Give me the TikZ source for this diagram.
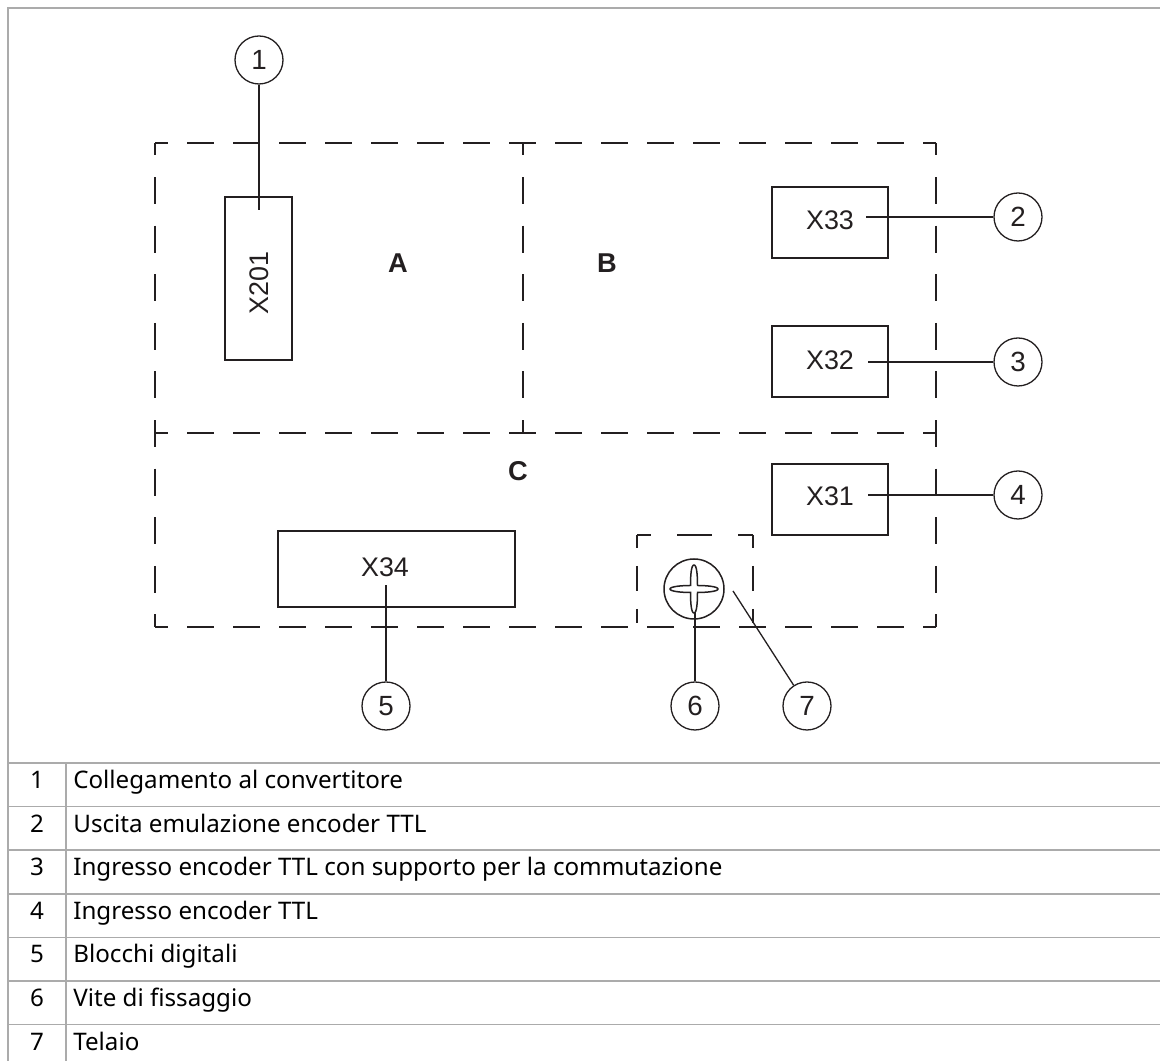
\documentclass[tikz,border=0pt]{standalone}
\usepackage{fontspec}
\setmainfont{Liberation Sans}
\newfontfamily\tablefont{Noto Sans}
\definecolor{inkdark}{rgb}{0.137,0.122,0.125}
\definecolor{framegray}{rgb}{0.670,0.670,0.670}
\tikzset{
  zonehoriz/.style={line width=0.04cm,color=inkdark,dash pattern=on 0.54cm off 0.38cm,dash phase=0.28cm},
  zonevert/.style={line width=0.04cm,color=inkdark,dash pattern=on 0.54cm off 0.432cm,dash phase=0.29cm},
  framehoriz/.style={line width=0.04cm,color=inkdark,dash pattern=on 0.70cm off 0.52cm,dash phase=0.42cm},
  framevert/.style={line width=0.04cm,color=inkdark,dash pattern=on 0.50cm off 0.36cm,dash phase=0.24cm},
  portbox/.style={draw=inkdark,line width=0.04cm,rectangle,inner sep=0pt},
  porttag/.style={inner sep=0pt,text=inkdark,font=\fontsize{15.3}{17}\selectfont},
  zonetag/.style={inner sep=0pt,text=inkdark,font=\fontsize{15.5}{17}\selectfont\bfseries},
  callout/.style={draw=inkdark,line width=0.026cm,circle,minimum size=0.96cm,inner sep=0pt,text=inkdark,font=\fontsize{15.8}{17}\selectfont},
  leader/.style={line width=0.026cm,color=inkdark},
  rule/.style={line width=0.032cm,color=framegray},
  rownum/.style={anchor=base,inner sep=0pt,font=\tablefont\fontsize{13.75}{16}\selectfont},
  rowtext/.style={anchor=base west,inner sep=0pt,font=\tablefont\fontsize{13.75}{16}\selectfont}
}
\begin{document}
\begin{tikzpicture}
\useasboundingbox (0,0) rectangle (23.2,21.22);

% Drawing outer frame and table rules
\draw [rule] (0.16,0) -- (0.16,21.06) -- (23.2,21.06);%
\draw [rule] (0.16,5.96) -- (23.2,5.96);%
\draw [rule] (0.16,5.088) -- (23.2,5.088);%
\draw [rule] (0.16,4.216) -- (23.2,4.216);%
\draw [rule] (0.16,3.344) -- (23.2,3.344);%
\draw [rule] (0.16,2.472) -- (23.2,2.472);%
\draw [rule] (0.16,1.60) -- (23.2,1.60);%
\draw [rule] (0.16,0.728) -- (23.2,0.728);%
\draw [rule] (1.32,0) -- (1.32,5.96);%

% Drawing dashed zones
\draw [zonehoriz] (3.10,18.36) -- (18.72,18.36);%
\draw [zonehoriz] (3.10,12.56) -- (18.72,12.56);%
\draw [zonehoriz] (3.10,8.68) -- (18.72,8.68);%
\draw [zonevert] (3.10,18.36) -- (3.10,8.68);%
\draw [zonevert] (18.72,18.36) -- (18.72,8.68);%
\draw [zonevert] (10.46,18.36) -- (10.46,12.56);%

% Drawing dashed screw frame
\draw [framehoriz] (12.74,10.52) -- (15.06,10.52);%
\draw [framevert] (12.74,10.52) -- (12.74,8.76);%
\draw [framevert] (15.06,10.52) -- (15.06,8.76);%

% Drawing connector boxes
\node [portbox,minimum width=1.34cm,minimum height=3.26cm] (x201box) at (5.17,15.65) {};%
\node [portbox,minimum width=2.32cm,minimum height=1.42cm] (x33box) at (16.60,16.77) {};%
\node [portbox,minimum width=2.32cm,minimum height=1.42cm] (x32box) at (16.60,13.99) {};%
\node [portbox,minimum width=2.32cm,minimum height=1.42cm] (x31box) at (16.60,11.23) {};%
\node [portbox,minimum width=4.74cm,minimum height=1.52cm] (x34box) at (7.93,9.84) {};%

% Drawing box and zone labels
\node [porttag,rotate=90] (x201) at (5.18,15.56) {X201};%
\node [porttag] (x33) at (16.60,16.82) {X33};%
\node [porttag] (x32) at (16.60,14.02) {X32};%
\node [porttag] (x31) at (16.60,11.30) {X31};%
\node [porttag] (x34) at (7.70,9.88) {X34};%
\node [zonetag] (zonea) at (7.96,15.96) {A};%
\node [zonetag] (zoneb) at (12.14,15.96) {B};%
\node [zonetag] (zonec) at (10.36,11.80) {C};%

% Drawing screw
\node [draw=inkdark,line width=0.03cm,circle,minimum size=1.20cm,inner sep=0pt] (screw) at (13.88,9.44) {};%
\draw [line width=0.03cm,color=inkdark,shift={(13.88,9.44)}] (0,0.48)
  .. controls (0.06,0.48) and (0.07,0.24) .. (0.07,0.07)
  .. controls (0.24,0.07) and (0.48,0.05) .. (0.48,0)
  .. controls (0.48,-0.05) and (0.24,-0.07) .. (0.07,-0.07)
  .. controls (0.07,-0.24) and (0.06,-0.48) .. (0,-0.48)
  .. controls (-0.06,-0.48) and (-0.07,-0.24) .. (-0.07,-0.07)
  .. controls (-0.24,-0.07) and (-0.48,-0.05) .. (-0.48,0)
  .. controls (-0.48,0.05) and (-0.24,0.07) .. (-0.07,0.07)
  .. controls (-0.07,0.24) and (-0.06,0.48) .. (0,0.48) -- cycle;%

% Drawing callouts
\node [callout] (call1) at (5.18,20.02) {1};%
\node [callout] (call2) at (20.36,16.88) {2};%
\node [callout] (call3) at (20.36,13.98) {3};%
\node [callout] (call4) at (20.36,11.32) {4};%
\node [callout] (call5) at (7.72,7.10) {5};%
\node [callout] (call6) at (13.90,7.10) {6};%
\node [callout] (call7) at (16.14,7.10) {7};%

% Drawing leaders
\coordinate (end1) at (5.18,17.02);%
\coordinate (end2) at (17.32,16.88);%
\coordinate (end3) at (17.36,13.98);%
\coordinate (end4) at (17.36,11.32);%
\coordinate (end5) at (7.72,9.52);%
\coordinate (end6) at (13.90,8.98);%
\coordinate (end7) at (14.66,9.40);%
\draw [leader] (call1) -- (end1);%
\draw [leader] (call2) -- (end2);%
\draw [leader] (call3) -- (end3);%
\draw [leader] (call4) -- (end4);%
\draw [leader] (call5) -- (end5);%
\draw [leader] (call6) -- (end6);%
\draw [leader] (call7) -- (end7);%

% Drawing table rows
\node [rownum] (num1) at (0.74,5.448) {1};%
\node [rowtext] (row1) at (1.46,5.448) {Collegamento al convertitore};%
\node [rownum] (num2) at (0.74,4.576) {2};%
\node [rowtext] (row2) at (1.46,4.576) {Uscita emulazione encoder TTL};%
\node [rownum] (num3) at (0.74,3.704) {3};%
\node [rowtext] (row3) at (1.46,3.704) {Ingresso encoder TTL con supporto per la commutazione};%
\node [rownum] (num4) at (0.74,2.832) {4};%
\node [rowtext] (row4) at (1.46,2.832) {Ingresso encoder TTL};%
\node [rownum] (num5) at (0.74,1.96) {5};%
\node [rowtext] (row5) at (1.46,1.96) {Blocchi digitali};%
\node [rownum] (num6) at (0.74,1.088) {6};%
\node [rowtext] (row6) at (1.46,1.088) {Vite di fissaggio};%
\node [rownum] (num7) at (0.74,0.216) {7};%
\node [rowtext] (row7) at (1.46,0.216) {Telaio};%
\end{tikzpicture}
\end{document}
